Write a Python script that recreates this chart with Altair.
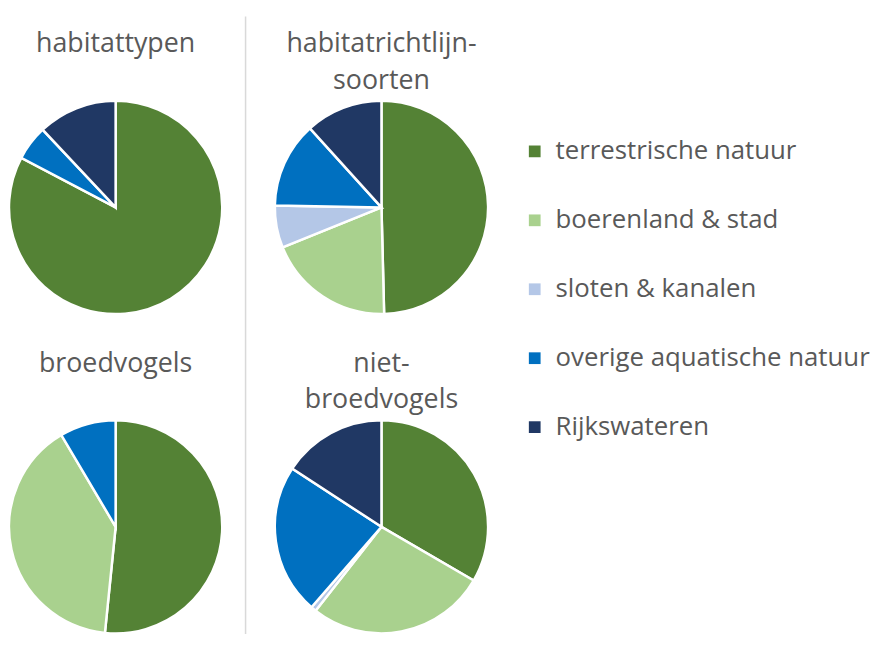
import altair as alt
import pandas as pd

categories = ["terrestrische natuur", "boerenland & stad", "sloten & kanalen",
              "overige aquatische natuur", "Rijkswateren"]
colors = ["#548235", "#A9D18E", "#B4C7E7", "#0070C0", "#203864"]

panels = ["habitattypen", "habitatrichtlijnsoorten", "broedvogels", "niet-broedvogels"]
titles = [["habitattypen"], ["habitatrichtlijn-", "soorten"],
          ["broedvogels"], ["niet-", "broedvogels"]]

habitattypen = [82.7, 0.0, 0.0, 5.3, 12.0]
habitatrichtlijnsoorten = [49.6, 19.3, 6.4, 13.0, 11.7]
broedvogels = [51.6, 39.9, 0.0, 8.5, 0.0]
niet_broedvogels = [33.4, 27.2, 0.8, 22.8, 15.8]

series = [habitattypen, habitatrichtlijnsoorten, broedvogels, niet_broedvogels]

rows = []
for p, vals in zip(panels, series):
    for i, (c, v) in enumerate(zip(categories, vals)):
        rows.append({"panel": p, "categorie": c, "idx": i, "value": v})
df = pd.DataFrame(rows)

FONT = "Open Sans"
GREY = "#595959"
LH = 37
SIZE = 215


def pie(panel, title_lines):
    extra = (2 - len(title_lines)) * LH
    return (
        alt.Chart(df)
        .transform_filter((alt.datum.panel == panel) & (alt.datum.value > 0))
        .mark_arc(stroke="white", strokeWidth=2.5)
        .encode(
            theta=alt.Theta("value:Q", stack=True),
            order=alt.Order("idx:Q"),
            color=alt.Color(
                "categorie:N",
                scale=alt.Scale(domain=categories, range=colors),
                legend=alt.Legend(
                    title=None, orient="none", legendX=517, legendY=38,
                    symbolType="square", symbolSize=140, symbolStrokeWidth=0,
                    labelFont=FONT, labelFontSize=26, labelColor=GREY,
                    labelLimit=400, labelOffset=8, rowPadding=43.5, padding=0,
                ),
            ),
        )
        .properties(
            width=SIZE, height=SIZE,
            title=alt.TitleParams(
                text=title_lines, font=FONT, fontSize=27, fontWeight="normal",
                color=GREY, lineHeight=LH, offset=1 + extra, anchor="middle",
            ),
        )
    )


def sep(y_top, y_bottom):
    return (
        alt.Chart(pd.DataFrame({"a": [0]}))
        .mark_rule(color="#d9d9d9", strokeWidth=1.5)
        .encode(x=alt.value(2.5), y=alt.value(y_top), y2=alt.value(y_bottom))
        .properties(width=11, height=SIZE)
    )


p = [pie(n, t) for n, t in zip(panels, titles)]

chart = alt.concat(
    p[0], sep(-85, SIZE), p[1], p[2], sep(-107, SIZE + 8), p[3],
    columns=3, bounds="flush", spacing={"row": 107, "column": 21},
).properties(
    padding={"left": -4, "top": 5, "right": 0, "bottom": -11},
    background="white",
).configure_view(stroke=None)

chart.save("out.html", embed_options={"renderer": "svg", "actions": False})
